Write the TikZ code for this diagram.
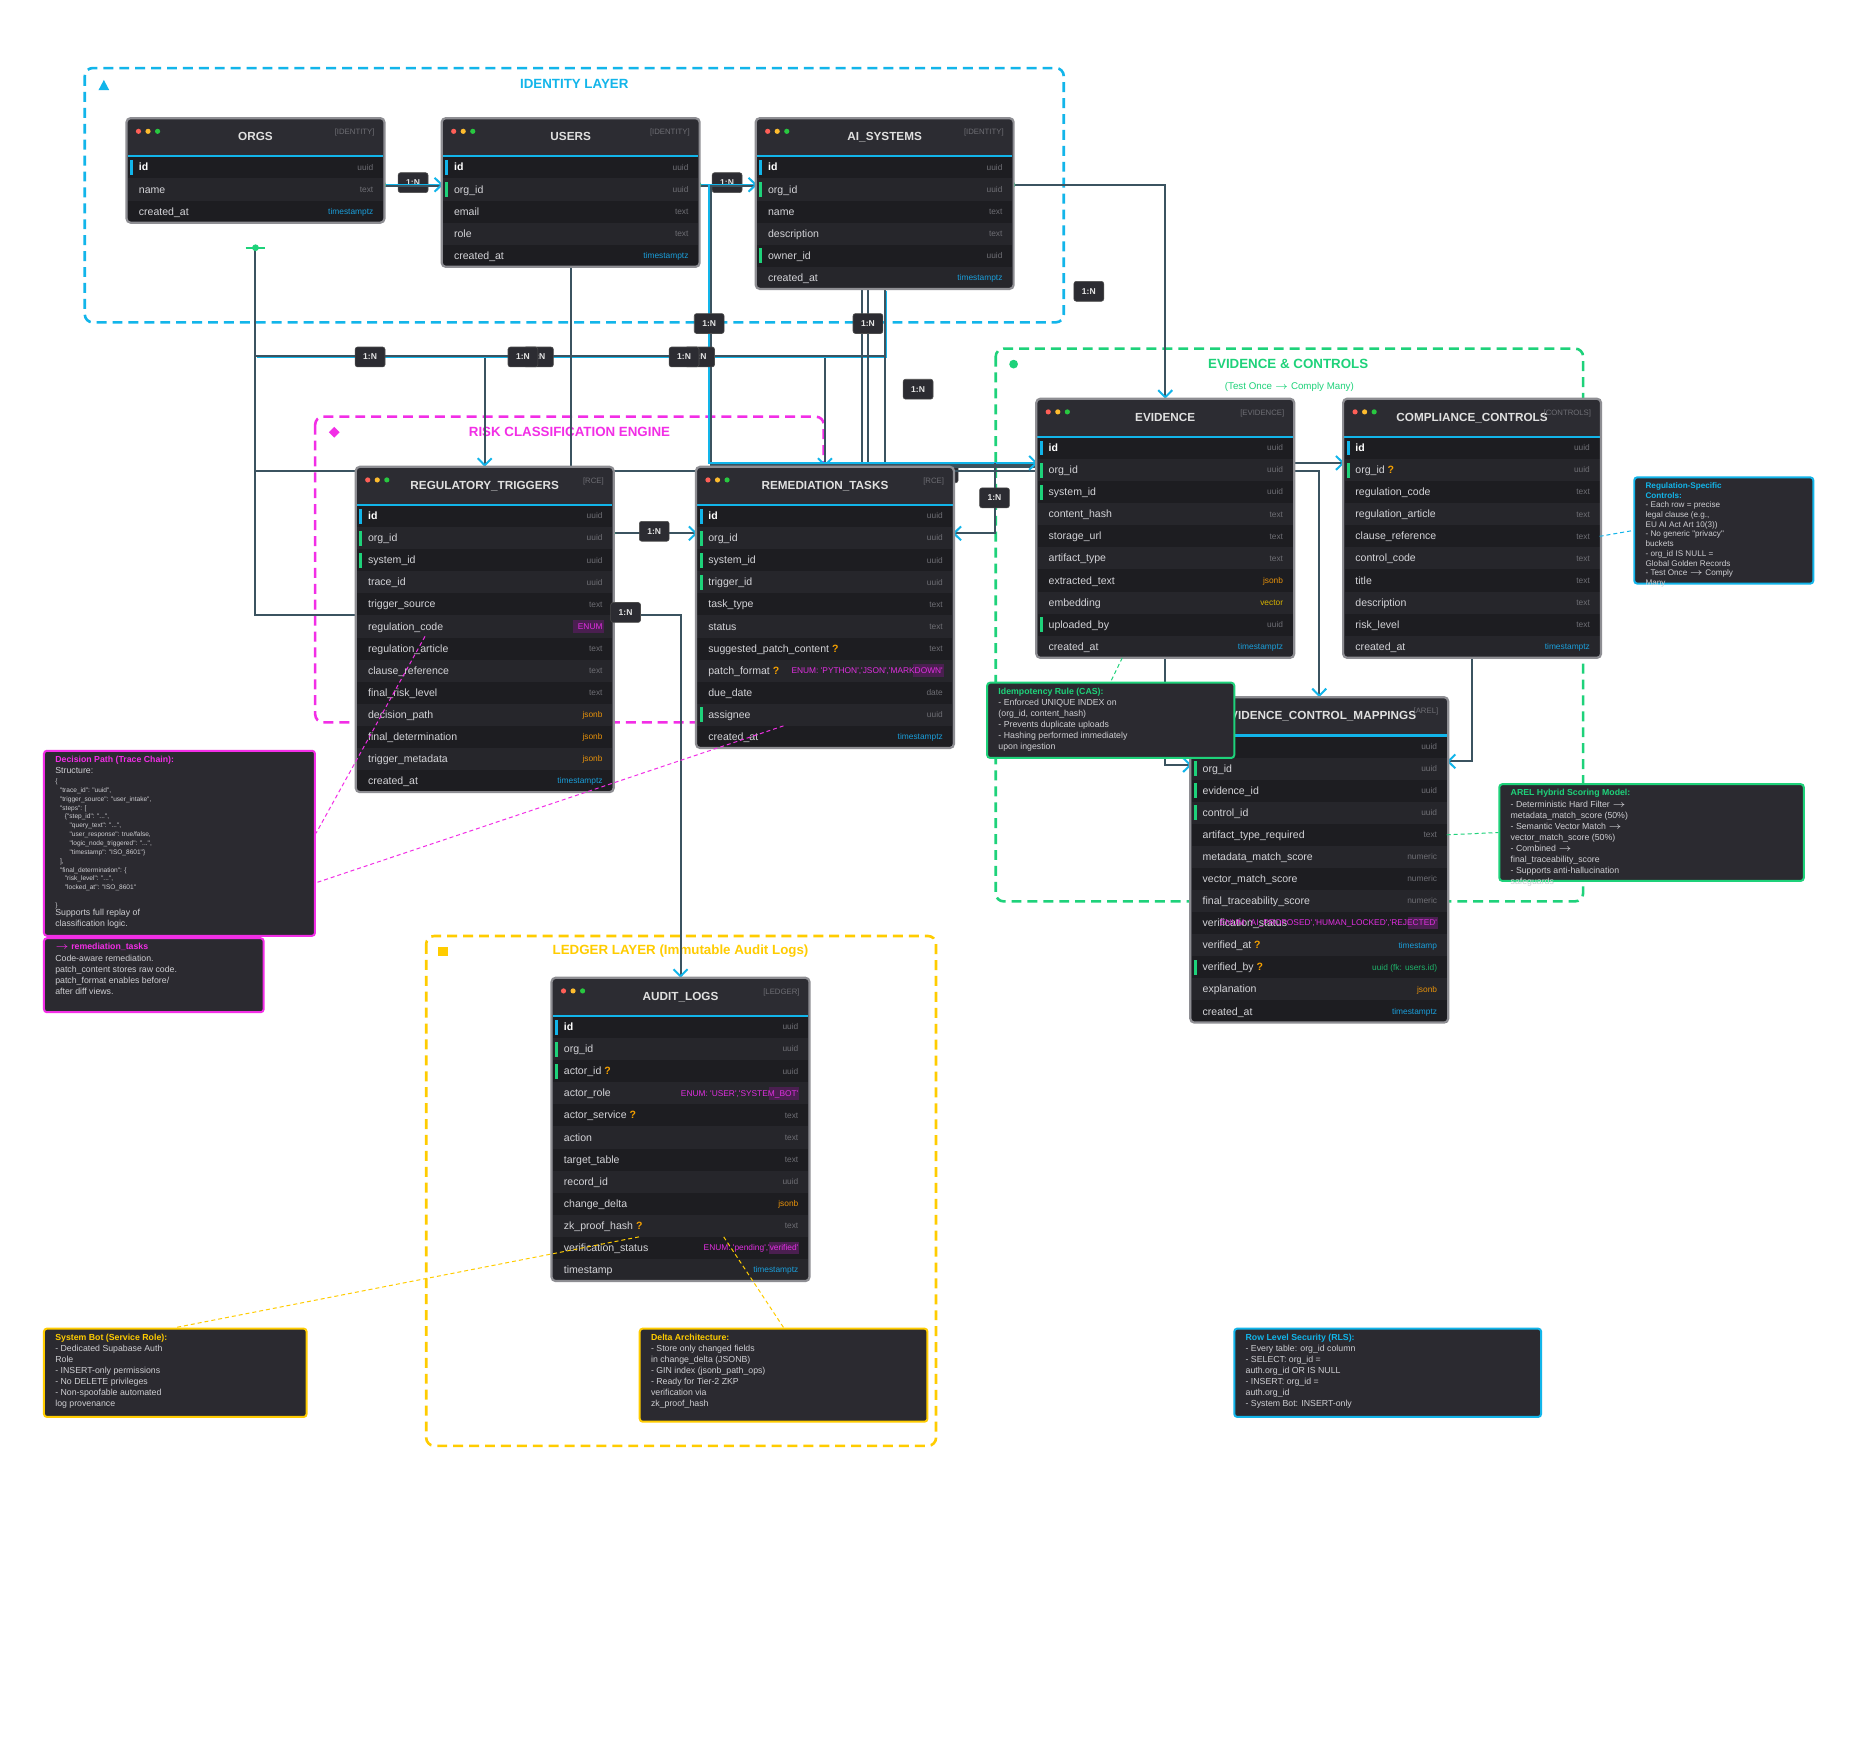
\documentclass[tikz,border=0pt]{standalone}
\usepackage{fontspec}
\setmainfont{Liberation Sans}[Ligatures=TeXOff]
\usetikzlibrary{arrows.meta}

\definecolor{cyanc}{HTML}{12B5EA}
\definecolor{greenc}{HTML}{1ED27A}
\definecolor{magc}{HTML}{F22EE6}
\definecolor{yelc}{HTML}{FFCC00}
\definecolor{linkc}{HTML}{3B5360}
\definecolor{hdrbg}{HTML}{2C2C32}
\definecolor{rowdk}{HTML}{1D1D21}
\definecolor{rowlt}{HTML}{26262B}
\definecolor{notebg}{HTML}{2B2A30}
\definecolor{notec}{HTML}{CFCFD3}
\definecolor{fieldc}{HTML}{D4D4D8}
\definecolor{typec}{HTML}{6E6E74}
\definecolor{tsc}{HTML}{1A9FDB}
\definecolor{jsonc}{HTML}{E8920A}
\definecolor{vecc}{HTML}{D8B400}
\definecolor{enumc}{HTML}{E02FE0}
\definecolor{enumbg}{HTML}{4A1F50}
\definecolor{fkc}{HTML}{1DB36A}
\definecolor{optc}{HTML}{F5A000}
\definecolor{framec}{HTML}{8E8E93}
\definecolor{dotr}{HTML}{FF5F57}
\definecolor{doty}{HTML}{FEBC2E}
\definecolor{dotg}{HTML}{28C840}

\pgfdeclarelayer{bg}
\pgfdeclarelayer{lines}
\pgfdeclarelayer{nlinks}
\pgfdeclarelayer{notes}
\pgfsetlayers{bg,lines,main,nlinks,notes}

\tikzset{
  link/.style={draw=linkc, line width=1pt},
  hilite/.style={draw=cyanc, line width=0.6pt},
  many/.style={-{Straight Barb[length=3.6pt,width=7pt,line width=1pt,color=cyanc]}},
  cardlbl/.style={fill=hdrbg, draw=black!70, line width=0.3pt, rounded corners=1.2pt,
    minimum width=15pt, minimum height=10pt, inner sep=0pt,
    font=\fontsize{4.3}{5}\selectfont\bfseries, text=white!90!black},
  layerbox/.style={dash pattern=on 5pt off 3pt, line width=1.3pt, rounded corners=4pt},
  layertitle/.style={font=\fontsize{6.7}{8}\selectfont\bfseries, inner sep=0pt},
  tblframe/.style={rounded corners=2pt, minimum width=129.6pt, inner sep=0pt, outer sep=0pt},
  rowcell/.style={minimum width=128.16pt, minimum height=11.1pt, inner sep=0pt, outer sep=0pt},
  fieldtxt/.style={font=\fontsize{5.3}{6}\selectfont, text=fieldc, inner sep=0pt},
  typetxt/.style={font=\fontsize{4.2}{5}\selectfont, text=typec, inner sep=0pt},
  tbltitle/.style={font=\fontsize{5.9}{7}\selectfont\bfseries, text=white!88!black, inner sep=0pt},
  tbltag/.style={font=\fontsize{3.9}{4.5}\selectfont, text=typec, inner sep=0pt},
  notefr/.style={fill=notebg, line width=1pt, rounded corners=1.5pt, inner sep=0pt},
  notetxt/.style={text=notec, align=left, inner sep=0pt},
  notelink/.style={dash pattern=on 2pt off 1.5pt, line width=0.5pt},
}

\newcommand{\tstz}{\textcolor{tsc}{timestamptz}}
\newcommand{\jsb}{\textcolor{jsonc}{jsonb}}
\newcommand{\opt}{\textcolor{optc}{\ \bfseries ?}}
\newcommand{\enm}[1]{\textcolor{enumc}{#1}}

% #1 name, #2 x, #3 y, #4 title, #5 tag, #6 rows, #7 fields
\newcommand{\dbtable}[7]{%
  \begin{scope}[shift={(#2,#3)}]
    \pgfmathsetmacro{\tblh}{32+#6*18.5}
    \node[tblframe, fill=hdrbg, minimum height=\tblh*0.6pt, anchor=north west] (#1) at (0,0) {};
    \foreach \fn/\ft/\fk [count=\i] in {#7} {
      \pgfmathsetmacro{\rowy}{32+(\i-1)*18.5}
      \ifodd\i\relax\def\rowc{rowdk}\else\def\rowc{rowlt}\fi
      \node[rowcell, fill=\rowc, anchor=north west] (#1-r\i) at (1.2,\rowy) {};
      \if p\fk\fill[cyanc] (3,\rowy+3) rectangle (5.6,\rowy+15.5);\fi
      \if f\fk\fill[greenc] (3,\rowy+3) rectangle (5.6,\rowy+15.5);\fi
      \if e\fk\fill[enumbg] (182,\rowy+4) rectangle (207.5,\rowy+14.5);\fi
      \if p\fk
        \node[fieldtxt, text=white, font=\fontsize{5.3}{6}\selectfont\bfseries, anchor=base west] at (10,\rowy+12.2) {\fn};
      \else
        \node[fieldtxt, anchor=base west] at (10,\rowy+12.2) {\fn};
      \fi
      \node[typetxt, anchor=base east] at (207,\rowy+11.6) {\ft};
    }
    \draw[cyanc, line width=1.1pt] (1,32) -- (215,32);
    \draw[framec, line width=1.1pt, rounded corners=2pt] (0,0) rectangle (216,\tblh);
    \node[tbltitle, anchor=base] (#1-title) at (108,19) {#4};
    \node[tbltag, anchor=base east] (#1-tag) at (208,14) {[#5]};
    \fill[dotr] (10,11) circle (1.3pt);
    \fill[doty] (18,11) circle (1.3pt);
    \fill[dotg] (26,11) circle (1.3pt);
  \end{scope}}

% #1 font, #2 name, #3 x1, #4 y1, #5 x2, #6 y2, #7 colour, #8 text
\newcommand{\notebox}[8][\fontsize{4.4}{5.58}\selectfont]{%
  \node[notefr, draw=#7, minimum width=(#5-#3)*0.6pt, minimum height=(#6-#4)*0.6pt, anchor=north west] (#2) at (#3,#4) {};
  \node[notetxt, font={#1}, anchor=north west] (#2-txt) at (#3+10,#4+5) {#8};}

\begin{document}
\catcode`\_=12
\begin{tikzpicture}[x=0.6pt, y=-0.6pt]
\useasboundingbox (0,0) rectangle (1568,1466);

% ---------- tables ----------
\dbtable{orgs}{106}{99}{ORGS}{IDENTITY}{3}{id/uuid/p, name/text/n, created_at/\tstz/n}
\dbtable{users}{370}{99}{USERS}{IDENTITY}{5}{id/uuid/p, org_id/uuid/f, email/text/n, role/text/n, created_at/\tstz/n}
\dbtable{aisys}{633}{99}{AI_SYSTEMS}{IDENTITY}{6}{id/uuid/p, org_id/uuid/f, name/text/n,
  description/text/n, owner_id/uuid/f, created_at/\tstz/n}
\dbtable{regtrig}{298}{391}{REGULATORY_TRIGGERS}{RCE}{13}{id/uuid/p, org_id/uuid/f, system_id/uuid/f,
  trace_id/uuid/n, trigger_source/text/n, regulation_code/\enm{ENUM}/e, regulation_article/text/n,
  clause_reference/text/n, final_risk_level/text/n, decision_path/\jsb/n, final_determination/\jsb/n,
  trigger_metadata/\jsb/n, created_at/\tstz/n}
\dbtable{remed}{583}{391}{REMEDIATION_TASKS}{RCE}{11}{id/uuid/p, org_id/uuid/f, system_id/uuid/f,
  trigger_id/uuid/f, task_type/text/n, status/text/n, suggested_patch_content\opt/text/n,
  patch_format\opt/\enm{ENUM: 'PYTHON','JSON','MARKDOWN'}/e, due_date/date/n, assignee/uuid/f,
  created_at/\tstz/n}
\dbtable{evid}{868}{334}{EVIDENCE}{EVIDENCE}{10}{id/uuid/p, org_id/uuid/f, system_id/uuid/f,
  content_hash/text/n, storage_url/text/n, artifact_type/text/n, extracted_text/\jsb/n,
  embedding/\textcolor{vecc}{vector}/n, uploaded_by/uuid/f, created_at/\tstz/n}
\dbtable{ctrl}{1125}{334}{COMPLIANCE_CONTROLS}{CONTROLS}{10}{id/uuid/p, org_id\opt/uuid/f,
  regulation_code/text/n, regulation_article/text/n, clause_reference/text/n, control_code/text/n,
  title/text/n, description/text/n, risk_level/text/n, created_at/\tstz/n}
\dbtable{evmap}{997}{584}{EVIDENCE_CONTROL_MAPPINGS}{AREL}{13}{id/uuid/p, org_id/uuid/f,
  evidence_id/uuid/f, control_id/uuid/f, artifact_type_required/text/n, metadata_match_score/numeric/n,
  vector_match_score/numeric/n, final_traceability_score/numeric/n,
  verification_status/\enm{ENUM: 'AI_PROPOSED','HUMAN_LOCKED','REJECTED'}/e,
  verified_at\opt/\textcolor{tsc}{timestamp}/n, verified_by\opt/\textcolor{fkc}{uuid (fk: users.id)}/f,
  explanation/\jsb/n, created_at/\tstz/n}
\dbtable{audit}{462}{819}{AUDIT_LOGS}{LEDGER}{12}{id/uuid/p, org_id/uuid/f, actor_id\opt/uuid/f,
  actor_role/\enm{ENUM: 'USER','SYSTEM_BOT'}/e, actor_service\opt/text/n, action/text/n,
  target_table/text/n, record_id/uuid/n, change_delta/\jsb/n, zk_proof_hash\opt/text/n,
  verification_status/\enm{ENUM: 'pending','verified'}/e, timestamp/\tstz/n}

% ---------- layers ----------
\begin{pgfonlayer}{bg}
  \fill[white] (0,0) rectangle (1568,1466);
  \draw[layerbox, draw=cyanc] (71,57) rectangle (891,270);
  \node[layertitle, text=cyanc] (idlayer) at (481,70) {IDENTITY LAYER};
  \fill[cyanc] (82.5,75.5) -- (91.5,75.5) -- (87,67) -- cycle;
  \draw[layerbox, draw=magc] (264,349) rectangle (690,605);
  \node[layertitle, text=magc] (rcelayer) at (477,362) {RISK CLASSIFICATION ENGINE};
  \fill[magc] (280,357.5) -- (284.5,362) -- (280,366.5) -- (275.5,362) -- cycle;
  \draw[layerbox, draw=greenc] (834,292) rectangle (1326,755);
  \node[layertitle, text=greenc] (evlayer) at (1079,305) {EVIDENCE \& CONTROLS};
  \node[inner sep=0pt, text=greenc, font=\fontsize{4.9}{5.5}\selectfont] (evsub) at (1080,324) {(Test Once $\rightarrow$ Comply Many)};
  \fill[greenc] (849,305) circle (2.2pt);
  \draw[layerbox, draw=yelc] (357,784) rectangle (784,1211);
  \node[layertitle, text=yelc] (ledlayer) at (570,797) {LEDGER LAYER (Immutable Audit Logs)};
  \fill[yelc] (367,793) rectangle (375,801);
\end{pgfonlayer}

% ---------- relations ----------
\begin{pgfonlayer}{lines}
  \coordinate (oOut) at ([yshift=2.4pt]orgs-r2.east);
  \coordinate (uIn) at ([yshift=2.4pt]users-r2.west);
  \coordinate (uOut) at ([yshift=2.4pt]users-r2.east);
  \coordinate (aIn) at ([yshift=2.4pt]aisys-r2.west);
  \coordinate (aOut) at ([yshift=2.4pt]aisys-r2.east);
  \coordinate (oDrop) at ([yshift=-12.6pt]orgs.south);
  \coordinate (busL) at (oDrop |- 0,298);
  \coordinate (uTap) at ([xshift=5.4pt]uOut);
  \coordinate (eIn) at ([yshift=3.6pt]evid-r2.west);
  \coordinate (eIn2) at ([yshift=-0.6pt]evid-r2.west);
  \coordinate (eTap) at (eIn -| 833,0);

  \node[cardlbl] (lbOU) at (346,153) {1:N};
  \node[cardlbl] (lbUA) at (609,153) {1:N};
  \node[cardlbl] (lbH1) at (661,396) {1:N};
  \node[cardlbl] (lbH2) at (790,396) {1:N};

  \draw[link, transform canvas={yshift=-0.8pt}] (oOut) -- (uIn);
  \draw[hilite, many] (oOut) -- (uIn);
  \draw[link, transform canvas={yshift=-0.8pt}] (uOut) -- (aIn);
  \draw[hilite, many] (uOut) -- (aIn);
  \draw[link, many] (aOut) -| (evid.north);

  \draw[link] (oDrop) |- (regtrig-r5.south west);
  \draw[link] (oDrop) |- (eIn2);
  \draw[link, many] (busL) -| (regtrig.north);
  \draw[link, many] (busL) -| (remed.north);
  \draw[link] (aisys.south) |- (busL);
  \draw[hilite, transform canvas={shift={(0.9pt,-0.9pt)}}] (aisys.south) |- (busL);
  \draw[link] (aisys.south) |- (eIn);
  \draw[link] ([xshift=-11.4pt]aisys.south) |- (eIn2);
  \draw[link] ([xshift=-8.4pt]aisys.south) |- ([yshift=1.5pt]evid-r2.west);
  \draw[link] (users.south) -- (users.south |- regtrig.north);
  \draw[link, transform canvas={shift={(0.8pt,-0.8pt)}}] (uTap) |- (eIn);
  \draw[hilite, many] (uTap) |- (eIn);

  \draw[link, many] ([yshift=2.4pt]regtrig-r2.east) -- ([yshift=2.4pt]remed-r2.west);
  \draw[link, many] (regtrig-r5.south east) -| (audit.north);
  \draw[link, many] (eTap) |- ([yshift=2.4pt]remed-r2.east);
  \draw[link, many] ([yshift=3.6pt]evid-r2.east) -- ([yshift=3.6pt]ctrl-r2.west);
  \draw[link, many] ([yshift=-0.6pt]evid-r2.east) -| (evmap.north);
  \draw[link, many] (evid.south) |- ([yshift=1.8pt]evmap-r2.west);
  \draw[link, many] (ctrl.south) |- ([yshift=3.6pt]evmap-r2.east);

  \foreach \p in {oOut, uOut, aOut} \fill[greenc] (\p) circle (1.6pt);
  \fill[greenc] ([yshift=2.4pt]regtrig-r2.east) circle (1.6pt);
\end{pgfonlayer}

\fill[greenc] (oDrop) circle (1.7pt);
\draw[greenc, line width=0.9pt] ([xshift=-5pt]oDrop) -- ([xshift=5pt]oDrop);

% ---------- cardinality labels ----------
\node[cardlbl] (lbAE) at (912,244) {1:N};
\node[cardlbl] (lbB1) at (310,299) {1:N};
\node[cardlbl] (lbB2b) at (451,299) {1:N};
\node[cardlbl] (lbB2) at (438,299) {1:N};
\node[cardlbl] (lbB3b) at (586,299) {1:N};
\node[cardlbl] (lbB3) at (573,299) {1:N};
\node[cardlbl] (lbUE) at (594,271) {1:N};
\node[cardlbl] (lbAS) at (727,271) {1:N};
\node[cardlbl] (lbX) at (769,326) {1:N};
\node[cardlbl] (lbRR) at (548,445) {1:N};
\node[cardlbl] (lbRA) at (524,513) {1:N};
\node[cardlbl] (lbER) at (833,417) {1:N};

% ---------- notes ----------
\begin{pgfonlayer}{notes}
  \notebox[\fontsize{4.1}{4.86}\selectfont]{regnote}{1368}{399}{1518}{488}{cyanc}{\textcolor{cyanc}{\bfseries Regulation-Specific}\\
    \textcolor{cyanc}{\bfseries Controls:}\\- Each row = precise\\legal clause (e.g.,\\EU AI Act Art 10(3))\\
    - No generic "privacy"\\buckets\\- org_id IS NULL =\\Global Golden Records\\- Test Once $\rightarrow$ Comply\\Many}
  \notebox{idnote}{826}{571}{1033}{634}{greenc}{\textcolor{greenc}{\bfseries Idempotency Rule (CAS):}\\
    - Enforced UNIQUE INDEX on\\(org_id, content_hash)\\- Prevents duplicate uploads\\
    - Hashing performed immediately\\upon ingestion}
  \notebox{arelnote}{1255}{656}{1510}{737}{greenc}{\textcolor{greenc}{\bfseries AREL Hybrid Scoring Model:}\\
    - Deterministic Hard Filter $\rightarrow$\\metadata_match_score (50\%)\\- Semantic Vector Match $\rightarrow$\\
    vector_match_score (50\%)\\- Combined $\rightarrow$\\final_traceability_score\\
    - Supports anti-hallucination\\safeguards}
  \notebox{dpnote}{36}{628}{263}{783}{magc}{\textcolor{magc}{\bfseries Decision Path (Trace Chain):}\\Structure:}
  \node[notetxt, font=\fontsize{3.3}{4.45}\selectfont, anchor=north west] (dpjson) at (46,652) {\{\\
    \hspace*{2.4pt}"trace_id": "uuid",\\
    \hspace*{2.4pt}"trigger_source": "user_intake",\\
    \hspace*{2.4pt}"steps": [\\
    \hspace*{4.8pt}\{"step_id": "...",\\
    \hspace*{7.2pt}"query_text": "...",\\
    \hspace*{7.2pt}"user_response": true/false,\\
    \hspace*{7.2pt}"logic_node_triggered": "...",\\
    \hspace*{7.2pt}"timestamp": "ISO_8601"\}\\
    \hspace*{2.4pt}],\\
    \hspace*{2.4pt}"final_determination": \{\\
    \hspace*{4.8pt}"risk_level": "...",\\
    \hspace*{4.8pt}"locked_at": "ISO_8601"\\
    \mbox{}\\
    \}};
  \node[notetxt, font=\fontsize{4.4}{5.4}\selectfont, anchor=north west] (dptail) at (46,761) {Supports full replay of\\classification logic.};
  \notebox{remnote}{36}{785}{220}{847}{magc}{\textcolor{magc}{\bfseries $\rightarrow$ remediation_tasks}\\
    Code-aware remediation.\\patch_content stores raw code.\\patch_format enables before/\\after diff views.}
  \notebox{sbnote}{36}{1112}{256}{1186}{yelc}{\textcolor{yelc}{\bfseries System Bot (Service Role):}\\
    - Dedicated Supabase Auth\\Role\\- INSERT-only permissions\\- No DELETE privileges\\
    - Non-spoofable automated\\log provenance}
  \notebox{deltanote}{535}{1112}{776}{1190}{yelc}{\textcolor{yelc}{\bfseries Delta Architecture:}\\
    - Store only changed fields\\in change_delta (JSONB)\\- GIN index (jsonb_path_ops)\\
    - Ready for Tier-2 ZKP\\verification via\\zk_proof_hash}
  \notebox{rlsnote}{1033}{1112}{1290}{1186}{cyanc}{\textcolor{cyanc}{\bfseries Row Level Security (RLS):}\\
    - Every table: org_id column\\- SELECT: org_id =\\auth.org_id OR IS NULL\\- INSERT: org_id =\\
    auth.org_id\\- System Bot: INSERT-only}
\end{pgfonlayer}

% ---------- note links ----------
\begin{pgfonlayer}{nlinks}
  \coordinate (dpTap) at (356,533);
  \draw[notelink, draw=cyanc] (ctrl-r5.east) -- (regnote.west);
  \draw[notelink, draw=greenc] ([xshift=-21.6pt]evid.south) -- (idnote.north);
  \draw[notelink, draw=greenc] (evmap-r5.east) -- (arelnote.west);
  \draw[notelink, draw=magc] (dpTap) -- ([yshift=5pt]dpnote.east);
  \draw[notelink, draw=magc] ([xshift=43.2pt]remed-r11.north west) -- (remnote.north);
  \draw[notelink, draw=yelc] ([xshift=43.2pt]audit-r11.north west) -- (sbnote.north);
  \draw[notelink, draw=yelc] ([xshift=85.8pt]audit-r11.north west) -- (deltanote.north);
\end{pgfonlayer}
\end{tikzpicture}
\end{document}
